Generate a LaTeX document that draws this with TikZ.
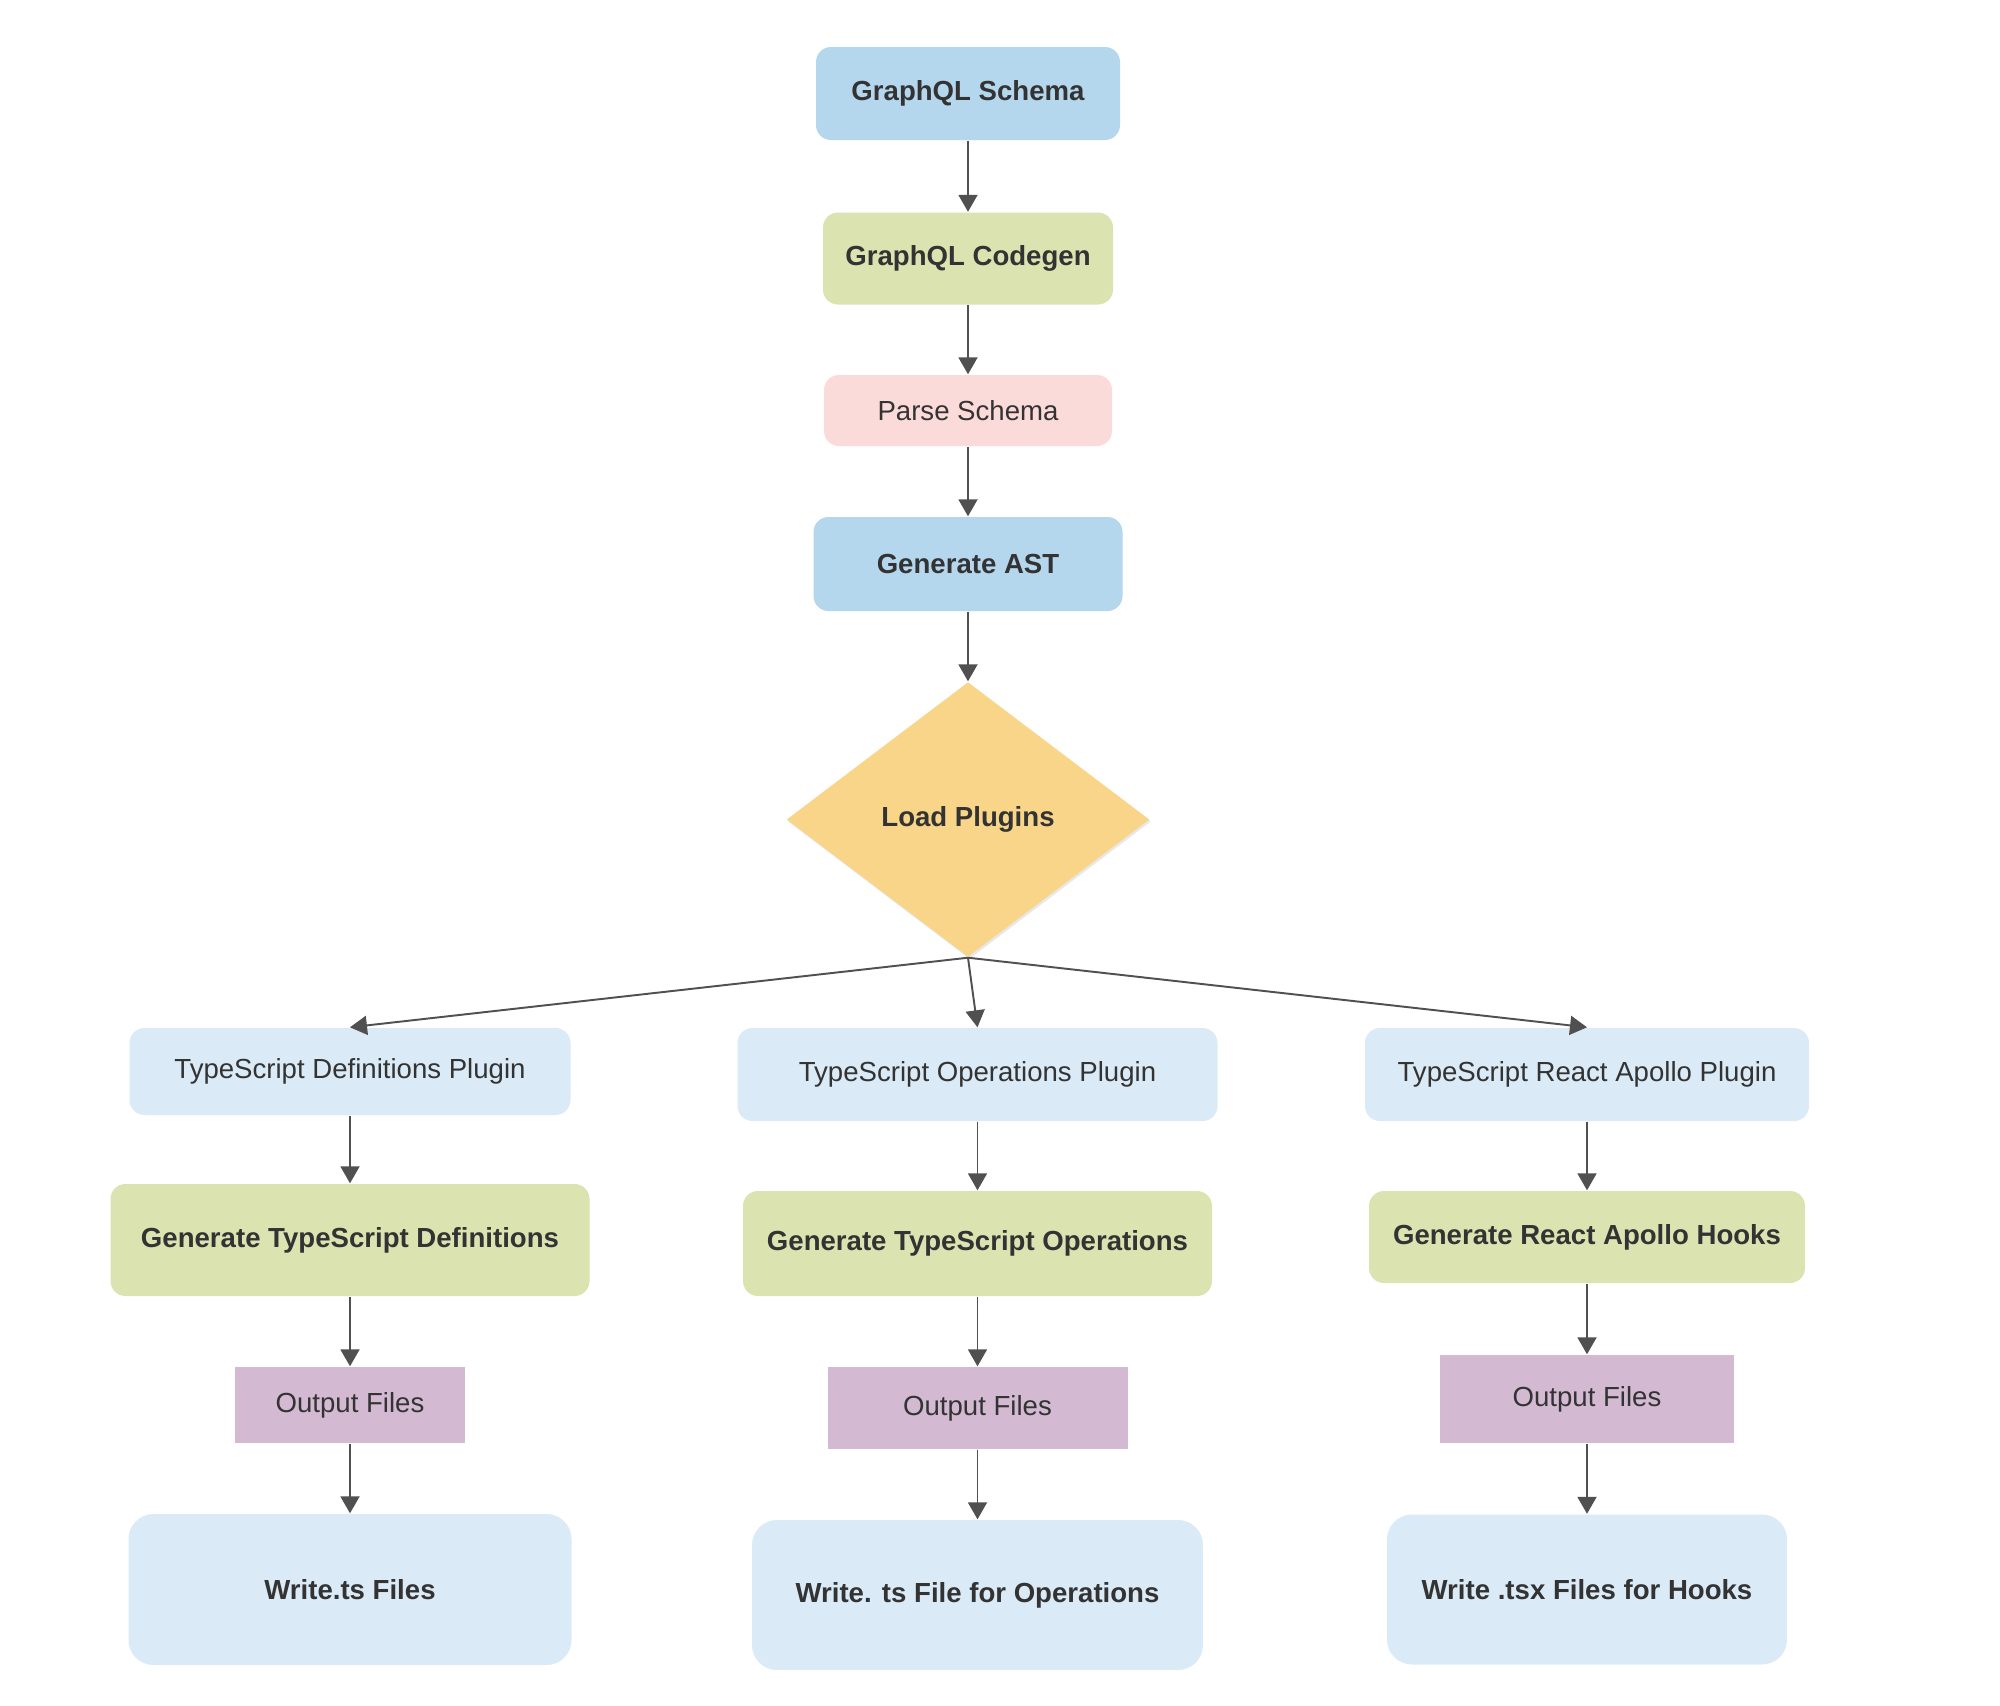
\documentclass[tikz,border=0pt]{standalone}
\usepackage{fontspec}
\setmainfont{Liberation Sans}
\usetikzlibrary{positioning}
\usetikzlibrary{shapes.geometric}
\usetikzlibrary{arrows.meta}
\usetikzlibrary{shadows}

\definecolor{txtgray}{RGB}{51,51,51}
\definecolor{arrgray}{RGB}{80,80,80}
\definecolor{deepblue}{RGB}{180,215,238}
\definecolor{paleblue}{RGB}{218,234,246}
\definecolor{leafgreen}{RGB}{219,228,177}
\definecolor{rosepink}{RGB}{251,219,218}
\definecolor{sandgold}{RGB}{248,213,136}
\definecolor{lilac}{RGB}{211,186,210}

\tikzset{
	base/.style={inner sep=0pt, text=txtgray, font=\fontsize{7.85}{9}\selectfont},
	rbox/.style={base, rounded corners=0.15cm},
	hard/.style={font=\fontsize{7.85}{9}\selectfont\bfseries},
	arr/.style={arrgray, line width=0.55pt, -{Triangle[width=0.19cm,length=0.17cm]}}
}

\begin{document}
\begin{tikzpicture}
	\useasboundingbox[fill=white] (0,0) rectangle (20,-17.06);
	% main chain
	\node[rbox,hard,fill=deepblue,minimum width=3.04cm,minimum height=0.93cm] (schema) at (9.68,-0.935) {GraphQL Schema};
	\node[rbox,hard,fill=leafgreen,minimum width=2.90cm,minimum height=0.92cm] (codegen) at (9.68,-2.585) {GraphQL Codegen};
	\node[rbox,fill=rosepink,minimum width=2.88cm,minimum height=0.71cm] (parse) at (9.68,-4.105) {Parse Schema};
	\node[rbox,hard,fill=deepblue,minimum width=3.09cm,minimum height=0.94cm] (ast) at (9.68,-5.64) {Generate AST};
	\node[base,hard,diamond,fill=sandgold,minimum width=3.63cm,minimum height=2.75cm,
		drop shadow={opacity=0.18,shadow xshift=0.4pt,shadow yshift=-0.6pt}] (load) at (9.68,-8.195) {Load Plugins};
	% plugins
	\node[rbox,fill=paleblue,minimum width=4.41cm,minimum height=0.87cm] (tdp) at (3.50,-10.715) {TypeScript Definitions Plugin};
	\node[rbox,fill=paleblue,minimum width=4.80cm,minimum height=0.93cm] (top) at (9.775,-10.745) {TypeScript Operations Plugin};
	\node[rbox,fill=paleblue,minimum width=4.44cm,minimum height=0.93cm] (trp) at (15.87,-10.745) {TypeScript React Apollo Plugin};
	% generators
	\node[rbox,hard,fill=leafgreen,minimum width=4.79cm,minimum height=1.12cm] (gtd) at (3.50,-12.40) {Generate TypeScript Definitions};
	\node[rbox,hard,fill=leafgreen,minimum width=4.69cm,minimum height=1.05cm] (gto) at (9.775,-12.435) {Generate TypeScript Operations};
	\node[rbox,hard,fill=leafgreen,minimum width=4.36cm,minimum height=0.92cm] (grh) at (15.87,-12.37) {Generate React Apollo Hooks};
	% outputs
	\node[base,fill=lilac,minimum width=2.30cm,minimum height=0.76cm] (outl) at (3.50,-14.05) {Output Files};
	\node[base,fill=lilac,minimum width=3.00cm,minimum height=0.82cm] (outm) at (9.775,-14.08) {Output Files};
	\node[base,fill=lilac,minimum width=2.94cm,minimum height=0.88cm] (outr) at (15.87,-13.99) {Output Files};
	% writers
	\node[rbox,hard,fill=paleblue,rounded corners=0.25cm,minimum width=4.43cm,minimum height=1.51cm] (wtl) at (3.50,-15.895) {Write.ts Files};
	\node[rbox,hard,fill=paleblue,rounded corners=0.25cm,minimum width=4.51cm,minimum height=1.50cm] (wtm) at (9.775,-15.95) {Write. ts File for Operations};
	\node[rbox,hard,fill=paleblue,rounded corners=0.25cm,minimum width=4.00cm,minimum height=1.50cm] (wtr) at (15.87,-15.895) {Write .tsx Files for Hooks};
	% connectors
	\foreach \a/\b in {schema/codegen,codegen/parse,parse/ast,ast/load,load/tdp,load/top,load/trp,
		tdp/gtd,gtd/outl,outl/wtl,top/gto,gto/outm,outm/wtm,trp/grh,grh/outr,outr/wtr}
		\draw[arr] (\a.south) -- (\b.north);
\end{tikzpicture}
\end{document}
